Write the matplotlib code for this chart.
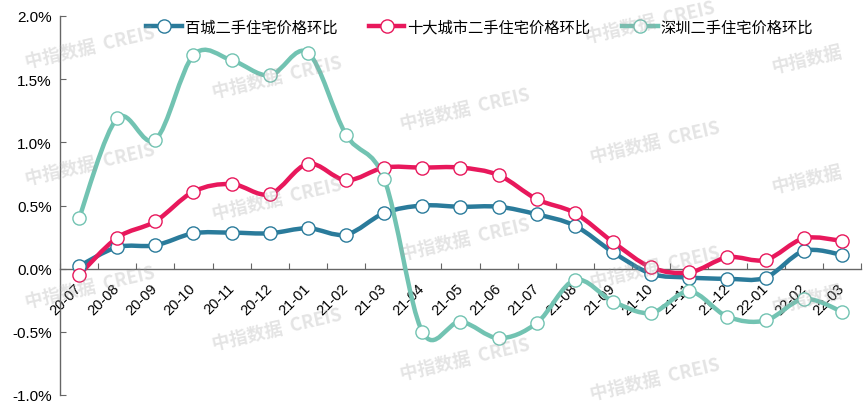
import numpy as np
import matplotlib.pyplot as plt
from matplotlib.path import Path
from matplotlib.patches import PathPatch
from matplotlib.lines import Line2D

months = ["20-07", "20-08", "20-09", "20-10", "20-11", "20-12", "21-01", "21-02",
          "21-03", "21-04", "21-05", "21-06", "21-07", "21-08", "21-09", "21-10",
          "21-11", "21-12", "22-01", "22-02", "22-03"]
baicheng = [0.02, 0.17, 0.185, 0.28, 0.285, 0.28, 0.32, 0.27, 0.44, 0.50, 0.49,
            0.49, 0.43, 0.34, 0.13, -0.04, -0.07, -0.08, -0.07, 0.14, 0.11]
shida = [-0.05, 0.245, 0.375, 0.61, 0.67, 0.59, 0.83, 0.70, 0.80, 0.80, 0.80,
         0.74, 0.55, 0.44, 0.21, 0.01, -0.03, 0.09, 0.07, 0.24, 0.22]
shenzhen = [0.40, 1.19, 1.02, 1.69, 1.65, 1.53, 1.71, 1.06, 0.71, -0.50, -0.42,
            -0.55, -0.43, -0.09, -0.26, -0.35, -0.18, -0.38, -0.41, -0.24, -0.34]
names = ["百城二手住宅价格环比", "十大城市二手住宅价格环比", "深圳二手住宅价格环比"]
colors = ["#2a7b9b", "#e8185c", "#72c3b2"]

plt.rcParams['font.family'] = ['Liberation Sans', 'Noto Sans CJK SC', 'DejaVu Sans']


def smooth_path(x, y):
    # excel style smoothed line, bezier through every point
    n = len(x)
    verts = [(x[0], y[0])]
    codes = [Path.MOVETO]
    for i in range(n - 1):
        xp, yp = (x[i - 1], y[i - 1]) if i > 0 else (x[i], y[i])
        xn, yn = (x[i + 2], y[i + 2]) if i + 2 < n else (x[i + 1], y[i + 1])
        c1 = (x[i] + (x[i + 1] - xp) / 6, y[i] + (y[i + 1] - yp) / 6)
        c2 = (x[i + 1] - (xn - x[i]) / 6, y[i + 1] - (yn - y[i]) / 6)
        verts += [c1, c2, (x[i + 1], y[i + 1])]
        codes += [Path.CURVE4] * 3
    return Path(verts, codes)


fig = plt.figure(figsize=(8.66, 4.10), dpi=100)
ax = fig.add_axes([60 / 866, 14 / 410, 801 / 866, 379 / 410])

x = np.arange(len(months))
handles = []
for vals, col, name in zip([baicheng, shida, shenzhen], colors, names):
    ax.add_patch(PathPatch(smooth_path(x, vals), fill=False, edgecolor=col, lw=3.2,
                           capstyle='round', joinstyle='round', zorder=3))
    ax.plot(x, vals, 'o', ls='none', mfc='white', mec=col, ms=9.5, mew=1, zorder=4)
    handles.append(Line2D([], [], color=col, lw=3.2, marker='o', mfc='white',
                          mec=col, ms=9.5, mew=1))

# spine position first: it resets the tick objects
for s in ['top', 'right']:
    ax.spines[s].set_visible(False)
ax.spines['bottom'].set_position(('data', 0))
for s in ['left', 'bottom']:
    ax.spines[s].set_color('#666666')
    ax.spines[s].set_linewidth(1)

ax.set_xlim(-0.5, len(months) - 0.5)
ax.set_ylim(-1.0, 2.0)
ax.set_yticks(np.arange(-1.0, 2.01, 0.5))
ax.set_yticklabels([f"{v:.1f}%" for v in np.arange(-1.0, 2.01, 0.5)], fontsize=11)
ax.set_xticks(np.arange(-0.5, len(months), 1))
ax.set_xticklabels([])
ax.tick_params(axis='x', which='major', direction='in', length=4, color='#666666')
ax.tick_params(axis='x', which='minor', length=0, pad=12, labelrotation=45)
ax.tick_params(axis='y', direction='in', length=4, color='#666666', pad=6)
ax.set_xticks(x, minor=True)
ax.set_xticklabels(months, minor=True, fontsize=10.5)
for t in ax.xaxis.get_minor_ticks(len(months)):
    t.label1.set_horizontalalignment('right')
    t.label1.set_verticalalignment('center')
    t.label1.set_rotation_mode('anchor')

fig.legend(handles, names, loc='center', bbox_to_anchor=(0.554, 0.932), ncol=3,
           frameon=False, handlelength=2.3, handletextpad=0.2, columnspacing=2.1,
           prop={'family': ['Noto Sans CJK SC'], 'size': 11})

# watermark
marks = [(90, 48), (277, 78), (465, 110), (655, 143), (650, 23),
         (90, 165), (277, 200), (465, 240), (655, 268),
         (90, 288), (277, 330), (465, 360), (655, 380)]
for mx, my in marks:
    fig.text(mx / 866, 1 - my / 410, "中指数据  CREIS", fontsize=13, fontweight='bold',
             color='#a0a0a0', alpha=0.28, rotation=13, ha='center', va='center',
             family=['Noto Sans CJK SC'], zorder=10)
for mx, my in [(807, 60), (807, 180), (807, 300)]:
    fig.text(mx / 866, 1 - my / 410, "中指数据", fontsize=13, fontweight='bold',
             color='#a0a0a0', alpha=0.28, rotation=13, ha='center', va='center',
             family=['Noto Sans CJK SC'], zorder=10)

fig.savefig("out.png", dpi=100)
